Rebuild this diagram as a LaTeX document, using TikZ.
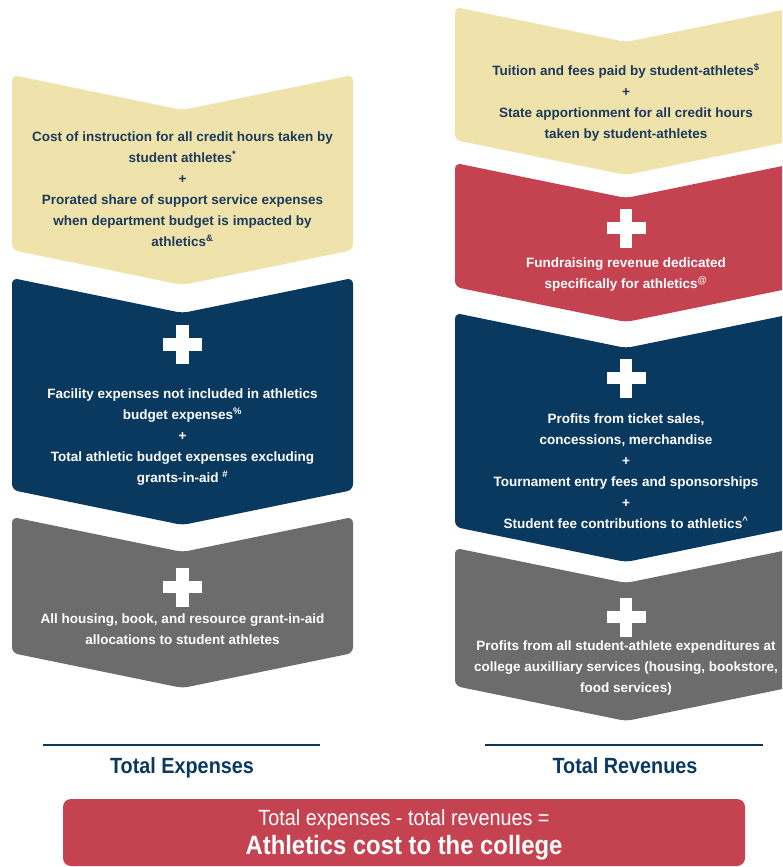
\documentclass[tikz,border=0pt]{standalone}
\usepackage{fontspec}
\setmainfont{Liberation Sans}
\newfontfamily\condfont{Liberation Sans}[FakeStretch=0.9]
\usepackage{tikz}

\definecolor{costnavy}{RGB}{10,57,96}
\definecolor{costsand}{RGB}{239,227,171}
\definecolor{costred}{RGB}{197,67,81}
\definecolor{costgray}{RGB}{108,108,108}
\definecolor{costink}{RGB}{28,58,92}

\tikzset{
  blurb/.style={
    align=center, inner sep=0pt, text=white,
    font=\fontsize{13.5}{21}\selectfont\bfseries
  },
  blurbD/.style={
    blurb, text=costink
  },
  heading/.style={
    inner sep=0pt, anchor=base, text=costnavy,
    font=\condfont\bfseries\fontsize{22}{26}\selectfont
  },
  totalrule/.style={draw=costnavy, line width=2.2pt},
  resultbox/.style={
    fill=costred, rounded corners=8pt, inner sep=0pt,
    minimum width=682pt, minimum height=67pt
  },
  bigplus/.pic={
    \fill[white] (-19.5,-6.3) rectangle (19.5,6.3);
    \fill[white] (-6.3,-19.5) rectangle (6.3,19.5);
  }
}

% chevron: colour, left x, right x, top y, bottom y (notch and tip 35 deep)
\newcommand{\chevron}[5]{%
  \fill[#1, rounded corners=6pt]
    (#2,{(#4+#5)/2}) -- (#2,#4) -- ({(#2+#3)/2},{#4+35}) -- (#3,#4)
    -- (#3,#5) -- ({(#2+#3)/2},{#5+35}) -- (#2,#5) -- cycle;}

\begin{document}
\begin{tikzpicture}[x=1pt, y=-1pt]
  \clip (0,0) rectangle (782,867);

  % expenses
  \chevron{costsand}{12}{353}{75}{250}
  \chevron{costnavy}{12}{353}{278}{490}
  \chevron{costgray}{12}{353}{517}{653}

  \node[blurbD] (instr) at (182.5,189.5)
    {Cost of instruction for all credit hours taken by\\
     student athletes\textsuperscript{*}\\
     +\\
     Prorated share of support service expenses\\
     when department budget is impacted by\\
     athletics\textsuperscript{\&}};

  \pic at (182.5,344.5) {bigplus};
  \node[blurb] (facility) at (182.5,437.5)
    {Facility expenses not included in athletics\\
     budget expenses\textsuperscript{\%}\\
     +\\
     Total athletic budget expenses excluding\\
     grants-in-aid \textsuperscript{\#}};

  \pic at (182.5,587) {bigplus};
  \node[blurb] (housing) at (182.5,629)
    {All housing, book, and resource grant-in-aid\\
     allocations to student athletes};

  % revenues
  \chevron{costsand}{455}{797}{7}{140}
  \chevron{costred}{455}{797}{163}{287}
  \chevron{costnavy}{455}{797}{313}{527}
  \chevron{costgray}{455}{797}{548}{686}

  \node[blurbD] (tuition) at (626,102.5)
    {Tuition and fees paid by student-athletes\textsuperscript{\$}\\
     +\\
     State apportionment for all credit hours\\
     taken by student-athletes};

  \pic at (626,228) {bigplus};
  \node[blurb] (fundraise) at (626,275)
    {Fundraising revenue dedicated\\
     specifically for athletics\textsuperscript{@}};

  \pic at (626,378) {bigplus};
  \node[blurb] (profits) at (626,471)
    {Profits from ticket sales,\\
     concessions, merchandise\\
     +\\
     Tournament entry fees and sponsorships\\
     +\\
     Student fee contributions to athletics\textsuperscript{\textasciicircum}};

  \pic at (626,617) {bigplus};
  \node[blurb] (auxiliary) at (626,668)
    {Profits from all student-athlete expenditures at\\
     college auxilliary services (housing, bookstore,\\
     food services)};

  % totals
  \draw[totalrule] (43,745) -- (320,745);
  \draw[totalrule] (485,745) -- (763,745);
  \node[heading] (totexp) at (182,773.5) {Total Expenses};
  \node[heading] (totrev) at (625,773.5) {Total Revenues};

  \node[resultbox] (costbox) at (404,832.5) {};
  \node[text=white, font=\condfont\fontsize{22}{26}\selectfont]
    (eqline) at (404,820) {Total expenses - total revenues =};
  \node[text=white, font=\condfont\bfseries\fontsize{26.5}{30}\selectfont]
    (costline) at (404,848) {Athletics cost to the college};
\end{tikzpicture}
\end{document}
